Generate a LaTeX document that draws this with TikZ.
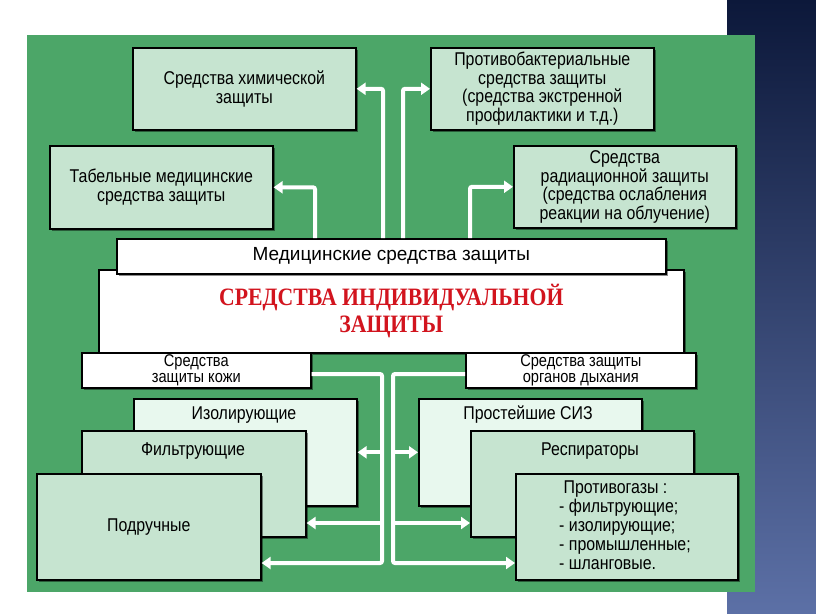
\documentclass[tikz,border=0pt]{standalone}
\usepackage{fontspec}
\setmainfont{Liberation Sans}
\newfontfamily\nfont[FakeStretch=0.86]{Liberation Sans}
\newfontfamily\titlefont[FakeStretch=0.87]{Liberation Serif}
\usetikzlibrary{arrows.meta,shadows}
\definecolor{panelgreen}{RGB}{76,166,104}
\definecolor{boxgreen}{RGB}{198,228,208}
\definecolor{boxlight}{RGB}{232,248,238}
\definecolor{titlered}{RGB}{210,20,30}
\definecolor{navytop}{RGB}{12,24,58}
\definecolor{navybot}{RGB}{92,112,166}
\tikzset{
 base/.style={draw=black, line width=1.6pt, anchor=north west, inner sep=0pt, align=center,
   font=\nfont\fontsize{18.5}{18.5}\selectfont,
   drop shadow={shadow xshift=2.5pt, shadow yshift=-2.5pt, opacity=0.45, fill=black}},
 gbox/.style={base, fill=boxgreen},
 lbox/.style={base, fill=boxlight},
 wbox/.style={base, fill=white},
 lbl/.style={font=\nfont\fontsize{18.5}{18.5}\selectfont, inner sep=0pt},
 wline/.style={draw=white, line width=4pt, rounded corners=2pt},
 warr/.style={wline, -{Triangle[width=12pt,length=9pt]}},
}
\begin{document}
\begin{tikzpicture}[x=1pt,y=-1pt]
\useasboundingbox (0,0) rectangle (816,613);
\fill[white] (0,0) rectangle (816,613);
\shade[top color=navytop, bottom color=navybot] (727,0) rectangle (816,613);
\fill[panelgreen] (27,35) rectangle (755,592);

% top boxes
\node[gbox, minimum width=223pt, minimum height=82pt] (chem) at (132,47) {Средства химической\\защиты};
\node[gbox, minimum width=223pt, minimum height=82pt] (bact) at (430,47) {Противобактериальные\\средства защиты\\(средства экстренной\\профилактики и т.д.)};
\node[gbox, minimum width=223pt, minimum height=83pt] (tab) at (49,145) {Табельные медицинские\\средства защиты};
\node[gbox, minimum width=222pt, minimum height=82pt] (rad) at (513,145) {Средства\\радиационной защиты\\(средства ослабления\\реакции на облучение)};

% central boxes
\node[wbox, minimum width=585pt, minimum height=83pt, font=\titlefont\bfseries\fontsize{25}{27}\selectfont, text=titlered] (siz) at (98,269) {СРЕДСТВА ИНДИВИДУАЛЬНОЙ\\ЗАЩИТЫ};
\node[wbox, minimum width=549pt, minimum height=35pt, font=\fontsize{19}{19}\selectfont] (med) at (116,238) {Медицинские средства защиты};
\node[wbox, minimum width=229pt, minimum height=35pt, font=\nfont\fontsize{17}{16}\selectfont] (skin) at (81,352) {Средства\\защиты кожи};
\node[wbox, minimum width=230pt, minimum height=35pt, font=\nfont\fontsize{17}{16}\selectfont] (breath) at (465,352) {Средства защиты\\органов дыхания};

% bottom left stack
\node[lbox, minimum width=223pt, minimum height=107pt] (iso) at (133,398) {};
\node[lbl] (isot) at (244,415) {Изолирующие};
\node[gbox, minimum width=224pt, minimum height=106pt] (filt) at (81,430) {};
\node[lbl] (filtt) at (193,451) {Фильтрующие};
\node[gbox, minimum width=224pt, minimum height=106pt] (pod) at (36,473) {Подручные};

% bottom right stack
\node[lbox, minimum width=223pt, minimum height=107pt] (simple) at (418,398) {};
\node[lbl] (simplet) at (528,415) {Простейшие СИЗ};
\node[gbox, minimum width=223pt, minimum height=106pt] (respr) at (470,430) {};
\node[lbl] (resprt) at (590,451) {Респираторы};
\node[gbox, minimum width=222pt, minimum height=106pt] (gas) at (515,473) {};
\node[lbl, anchor=west, align=left, font=\nfont\fontsize{18.5}{19}\selectfont] (gast) at (559,525) {\ Противогазы :\\- фильтрующие;\\- изолирующие;\\- промышленные;\\- шланговые.};

% connectors
\coordinate (ls) at (382,0);
\coordinate (rs) at (393,0);
\draw[warr] (med.north -| 315,0) |- (tab.east);
\draw[warr] (med.north -| 383,0) |- (chem.east);
\draw[warr] (med.north -| 403,0) |- (bact.west);
\draw[warr] (med.north -| 470,0) |- (rad.west);

\draw[warr] (skin.east |- 0,374) -| (ls |- 0,563) -- (pod.east |- 0,563);
\draw[warr] (ls |- 0,523) -- (filt.east |- 0,523);
\draw[warr] (ls |- iso.east) -- (iso.east);
\draw[warr] (breath.west |- 0,374) -| (rs |- 0,563) -- (gas.west |- 0,563);
\draw[warr] (rs |- 0,523) -- (respr.west |- 0,523);
\draw[warr] (rs |- simple.west) -- (simple.west);
\end{tikzpicture}
\end{document}
